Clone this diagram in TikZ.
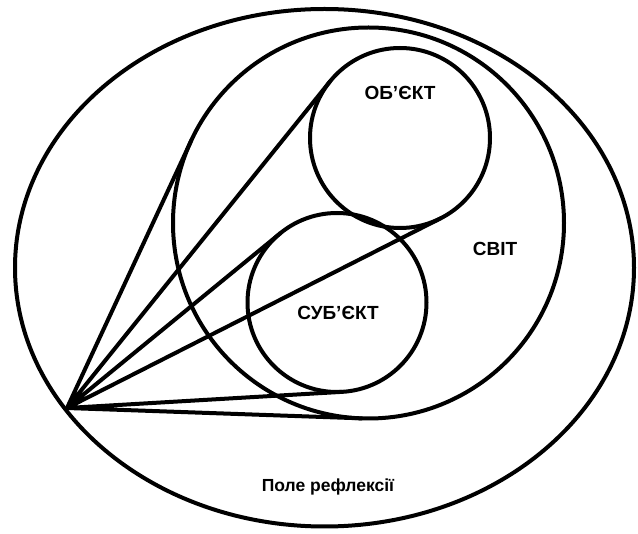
\documentclass[tikz,border=0pt]{standalone}
\usepackage{fontspec}
\setmainfont{Liberation Sans}
\usetikzlibrary{calc,shapes.geometric}
\begin{document}
\begin{tikzpicture}[x=1pt,y=-1pt,line width=4pt,
  ring/.style={circle,draw,inner sep=0pt,outer sep=0pt},
  lbl/.style={font=\bfseries\fontsize{19}{22}\selectfont,inner sep=0pt},
  small/.style={font=\bfseries\fontsize{17.5}{20}\selectfont,inner sep=0pt},
  ray/.style={draw,line cap=round,line join=round}]
\useasboundingbox (0,0) rectangle (638,534);
\node[ellipse,draw,inner sep=0pt,outer sep=0pt,minimum width=619pt,minimum height=517.5pt] (field) at (324.5,267.75) {};
\node[ring,minimum size=391pt] (world) at (368.5,223) {};
\node[ring,minimum size=180pt] (obj) at (400,138) {};
\node[ring,minimum size=179pt] (subj) at (337,302.5) {};
\coordinate (p) at (67,408);
\coordinate (w1) at (tangent cs:node=world,point={(p)},solution=1);
\coordinate (w2) at (tangent cs:node=world,point={(p)},solution=2);
\coordinate (o1) at (tangent cs:node=obj,point={(p)},solution=1);
\coordinate (o2) at (tangent cs:node=obj,point={(p)},solution=2);
\coordinate (s1) at (tangent cs:node=subj,point={(p)},solution=1);
\coordinate (s2) at (tangent cs:node=subj,point={(p)},solution=2);
\path[ray] (p) -- (w1) (p) -- (w2) (p) -- (o1) (p) -- (o2) (p) -- (s1) (p) -- (s2);
\node[lbl] (lo) at (400,93) {ОБ’ЄКТ};
\node[lbl] (lw) at (495,249) {СВІТ};
\node[lbl] (ls) at (338,313) {СУБ’ЄКТ};
\node[small] (lf) at (328,487) {Поле рефлексії};
\end{tikzpicture}
\end{document}
